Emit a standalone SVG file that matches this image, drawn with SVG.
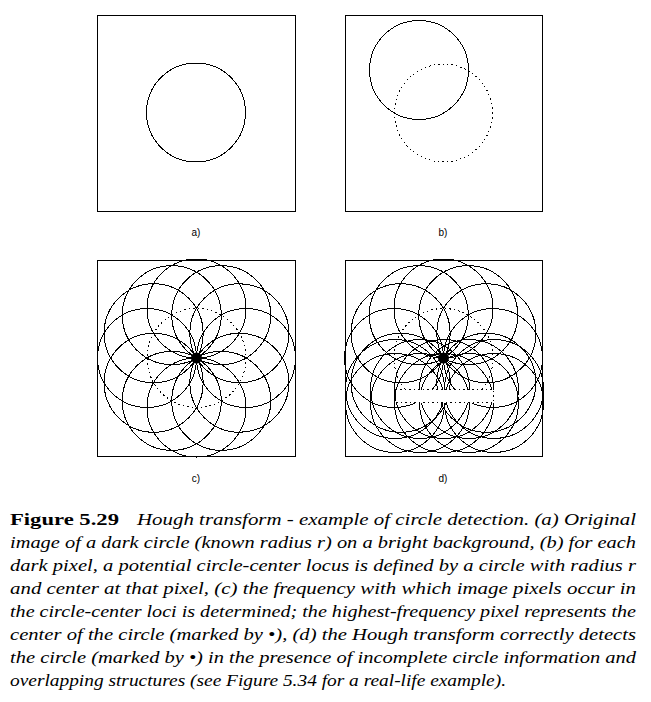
<svg xmlns="http://www.w3.org/2000/svg" width="651" height="702" viewBox="0 0 651 702">
<style>
.box{fill:none;stroke:#000;stroke-width:1;shape-rendering:crispEdges}
.c{fill:none;stroke:#000;stroke-width:1;shape-rendering:crispEdges}
.dot{fill:none;stroke:#000;stroke-width:1;stroke-dasharray:1.5 3;shape-rendering:crispEdges}
.lbl{font-family:"Liberation Sans",Arial,sans-serif;font-size:10px;text-anchor:middle;fill:#000}
.cap{font-family:"Liberation Serif","Times New Roman",serif;font-style:italic;font-size:17px;fill:#000}
.capb{font-family:"Liberation Serif","Times New Roman",serif;font-weight:bold;font-size:17px;fill:#000}
</style>
<rect width="651" height="702" fill="#fff"/>
<g id="panel-a">
<rect class="box" x="97.5" y="15.5" width="198" height="196"/>
<circle class="c" cx="196" cy="112.5" r="49.5"/>
<text class="lbl" x="196" y="236">a)</text>
</g>
<g id="panel-b">
<rect class="box" x="345.5" y="15.5" width="197" height="196"/>
<circle class="c" cx="419" cy="70" r="49.5"/>
<circle class="dot" cx="443.5" cy="113" r="49"/>
<text class="lbl" x="443" y="236">b)</text>
</g>
<g id="panel-c">
<rect class="box" x="97.5" y="260.5" width="198" height="196"/>
<circle class="dot" cx="196.5" cy="358" r="49.5"/>
<circle class="c" cx="246" cy="358" r="49.5"/>
<circle class="c" cx="239.37" cy="382.75" r="49.5"/>
<circle class="c" cx="221.25" cy="400.87" r="49.5"/>
<circle class="c" cx="196.5" cy="407.5" r="49.5"/>
<circle class="c" cx="171.75" cy="400.87" r="49.5"/>
<circle class="c" cx="153.63" cy="382.75" r="49.5"/>
<circle class="c" cx="147" cy="358" r="49.5"/>
<circle class="c" cx="153.63" cy="333.25" r="49.5"/>
<circle class="c" cx="171.75" cy="315.13" r="49.5"/>
<circle class="c" cx="196.5" cy="308.5" r="49.5"/>
<circle class="c" cx="221.25" cy="315.13" r="49.5"/>
<circle class="c" cx="239.37" cy="333.25" r="49.5"/>
<circle cx="196.5" cy="358" r="5.5" fill="#000"/>
<text class="lbl" x="196" y="482">c)</text>
</g>
<g id="panel-d">
<rect class="box" x="345.5" y="260.5" width="197" height="196"/>
<path class="dot" d="M404.9,389 A49.5,49.5 0 1,1 482.1,389"/>
<circle class="c" cx="493" cy="358" r="49.5"/>
<circle class="c" cx="486.37" cy="382.75" r="49.5"/>
<circle class="c" cx="400.63" cy="382.75" r="49.5"/>
<circle class="c" cx="394" cy="358" r="49.5"/>
<circle class="c" cx="400.63" cy="333.25" r="49.5"/>
<circle class="c" cx="418.75" cy="315.13" r="49.5"/>
<circle class="c" cx="443.5" cy="308.5" r="49.5"/>
<circle class="c" cx="468.25" cy="315.13" r="49.5"/>
<circle class="c" cx="486.37" cy="333.25" r="49.5"/>
<circle class="c" cx="395" cy="389" r="49.5"/>
<circle class="c" cx="420" cy="389" r="49.5"/>
<circle class="c" cx="444" cy="389" r="49.5"/>
<circle class="c" cx="469" cy="389" r="49.5"/>
<circle class="c" cx="494" cy="389" r="49.5"/>
<circle class="c" cx="395" cy="403" r="49.5"/>
<circle class="c" cx="420" cy="403" r="49.5"/>
<circle class="c" cx="444" cy="403" r="49.5"/>
<circle class="c" cx="469" cy="403" r="49.5"/>
<circle class="c" cx="494" cy="403" r="49.5"/>
<rect x="395.5" y="389.5" width="98" height="13" fill="#fff" stroke="#000" stroke-width="1" stroke-dasharray="1.5 3" shape-rendering="crispEdges"/>
<circle cx="443.5" cy="358" r="5.5" fill="#000"/>
<text class="lbl" x="443" y="482">d)</text>
</g>
<g id="caption">
<text class="capb" x="10" y="525" textLength="109" lengthAdjust="spacingAndGlyphs">Figure 5.29</text>
<text class="cap" x="137" y="525" textLength="499" lengthAdjust="spacingAndGlyphs">Hough transform - example of circle detection.  (a) Original</text>
<text class="cap" x="10" y="548" textLength="626" lengthAdjust="spacingAndGlyphs">image of a dark circle (known radius r) on a bright background, (b) for each</text>
<text class="cap" x="10" y="571" textLength="626" lengthAdjust="spacingAndGlyphs">dark pixel, a potential circle-center locus is defined by a circle with radius r</text>
<text class="cap" x="10" y="594" textLength="626" lengthAdjust="spacingAndGlyphs">and center at that pixel, (c) the frequency with which image pixels occur in</text>
<text class="cap" x="10" y="617" textLength="626" lengthAdjust="spacingAndGlyphs">the circle-center loci is determined; the highest-frequency pixel represents the</text>
<text class="cap" x="10" y="640" textLength="626" lengthAdjust="spacingAndGlyphs">center of the circle (marked by •), (d) the Hough transform correctly detects</text>
<text class="cap" x="10" y="663" textLength="626" lengthAdjust="spacingAndGlyphs">the circle (marked by •) in the presence of incomplete circle information and</text>
<text class="cap" x="10" y="686" textLength="496" lengthAdjust="spacingAndGlyphs">overlapping structures (see Figure 5.34 for a real-life example).</text>
</g>
</svg>
